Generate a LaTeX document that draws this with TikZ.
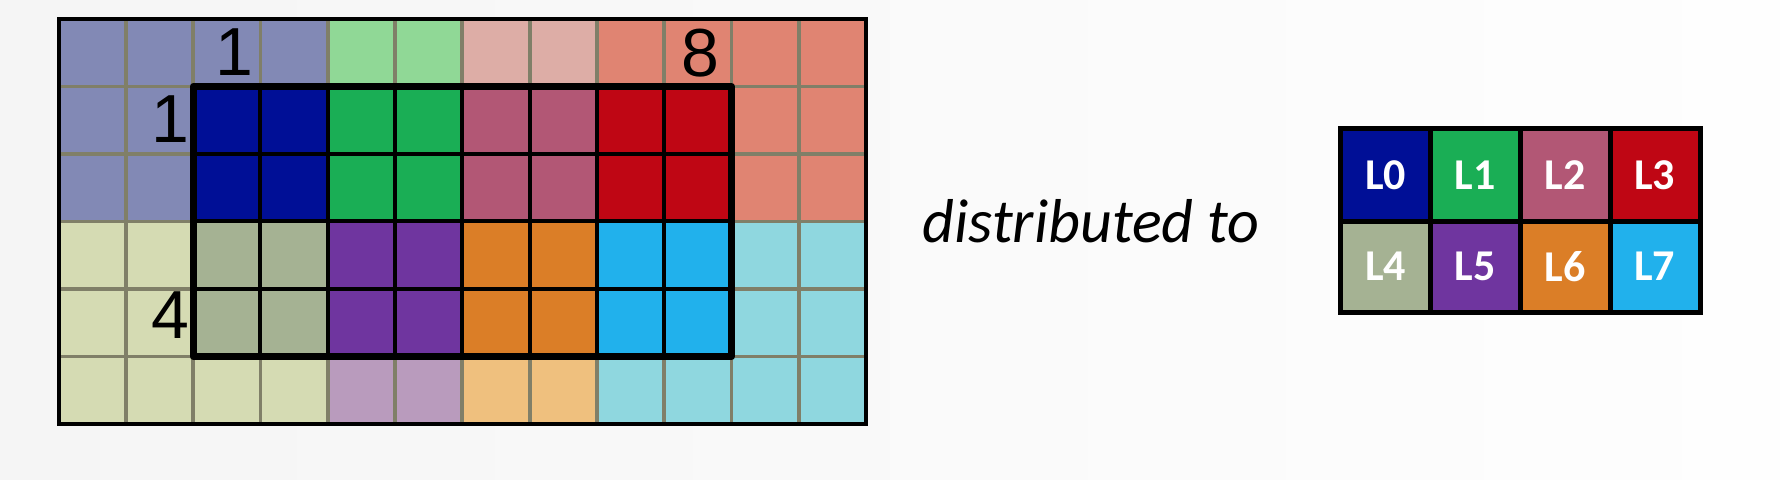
\documentclass[tikz,border=0pt]{standalone}
\usepackage{fontspec}
\setmainfont{Carlito}
\newfontfamily\arialfont{Liberation Sans}

% pale (outer) and full (inner) block colours
\definecolor{paleA}{HTML}{8289B5}
\definecolor{paleB}{HTML}{90D896}
\definecolor{paleC}{HTML}{DDADA6}
\definecolor{paleD}{HTML}{E08472}
\definecolor{paleE}{HTML}{D5DBB3}
\definecolor{paleF}{HTML}{B99BBD}
\definecolor{paleG}{HTML}{EFC07E}
\definecolor{paleH}{HTML}{8FD7DF}
\definecolor{locA}{HTML}{000F96}
\definecolor{locB}{HTML}{1AAE55}
\definecolor{locC}{HTML}{B25775}
\definecolor{locD}{HTML}{BF0614}
\definecolor{locE}{HTML}{A5B293}
\definecolor{locF}{HTML}{6F359F}
\definecolor{locG}{HTML}{DB7E27}
\definecolor{locH}{HTML}{21B1EC}
\definecolor{gridgray}{HTML}{807F68}
\definecolor{bgleft}{HTML}{F5F5F5}
\definecolor{bgright}{HTML}{FEFEFE}

\begin{document}
\begin{tikzpicture}[x=0.5pt,y=-0.5pt,
  gridline/.style={draw=gridgray, line width=1.9pt},
  blockline/.style={draw=black, line width=2pt},
  numlabel/.style={font=\arialfont\fontsize{34}{40}\selectfont, inner sep=0pt},
  lcell/.style={minimum width=44.85pt, minimum height=45.75pt, inner sep=0pt,
    text=white, font=\bfseries\fontsize{22}{26}\selectfont}]
\useasboundingbox (0,0) rectangle (1780,480);
\shade[left color=bgleft, right color=bgright] (0,0) rectangle (1780,480);

%Global array, 12 x 6 cells
\begin{scope}[shift={(58.5,19)}, x=33.65pt, y=-33.75pt]
\fill[paleA] (0,0) rectangle (4,3);
\fill[paleB] (4,0) rectangle (6,1);
\fill[paleC] (6,0) rectangle (8,1);
\fill[paleD] (8,0) rectangle (12,3);
\fill[paleE] (0,3) rectangle (4,6);
\fill[paleF] (4,5) rectangle (6,6);
\fill[paleG] (6,5) rectangle (8,6);
\fill[paleH] (8,3) rectangle (12,6);
\foreach \x in {1,...,11}
  \draw[gridline] (\x,0) -- (\x,6);
\foreach \y in {1,...,5}
  \draw[gridline] (0,\y) -- (12,\y);
\draw[black, line width=2pt] (0,0) rectangle (12,6);

%Local blocks
\foreach \c [count=\i from 0] in {locA,locB,locC,locD}
  \fill[\c] (2+2*\i,1) rectangle ++(2,2);
\foreach \c [count=\i from 0] in {locE,locF,locG,locH}
  \fill[\c] (2+2*\i,3) rectangle ++(2,2);
\foreach \x in {3,...,9}
  \draw[blockline] (\x,1) -- (\x,5);
\foreach \y in {2,3,4}
  \draw[blockline] (2,\y) -- (10,\y);
\draw[black, line width=3.5pt, line join=round] (2,1) rectangle (10,5);

% Text Node
\node[numlabel] (top1) at (2.61,0.49) {1};
\node[numlabel] (left1) at (1.67,1.48) {1};
\node[numlabel] (top8) at (9.54,0.5) {8};
\node[numlabel] (left4) at (1.67,4.39) {4};
\end{scope}

% Text Node
\node[anchor=base, inner sep=0pt, font=\itshape\fontsize{31}{36}\selectfont] (dist) at (1091,243) {distributed to};

%Process grid, 4 x 2
\foreach \c [count=\i from 0] in {locA,locB,locC,locD}
  \node[lcell, fill=\c] (l\i) at (1340.7+44.85+89.75*\i,129.3+45.75) {L\i};
\foreach \c [count=\i from 4] in {locE,locF,locG,locH}
  \node[lcell, fill=\c] (l\i) at (1340.7+44.85+89.75*\i-359,129.3+45.75+91.5) {L\i};
\draw[black, line width=2.5pt] (l0.north west) rectangle (l7.south east);
\draw[black, line width=2.5pt] (l0.south west) -- (l3.south east);
\foreach \i in {0,1,2}
  \draw[black, line width=2.5pt] (l\i.north east) -- (l\i.north east |- l7.south east);
\end{tikzpicture}
\end{document}
